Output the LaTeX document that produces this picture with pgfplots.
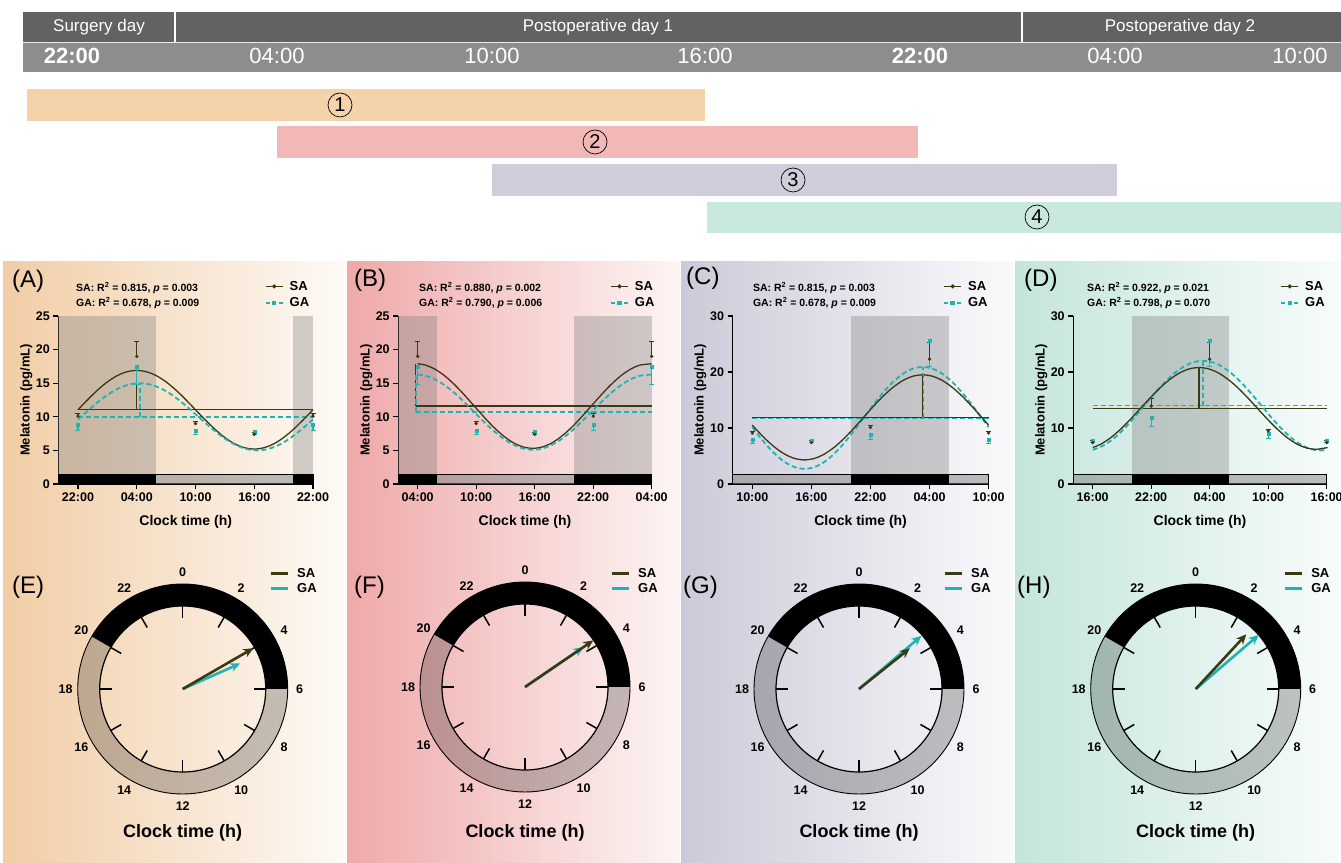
\documentclass[border=0pt]{standalone}
\usepackage{pgfplots}
\pgfplotsset{compat=1.18}
\usepackage{fontspec}
\setmainfont{Liberation Sans}
\usetikzlibrary{arrows.meta}
\newcommand\fs[1]{\fontsize{#1}{#1}\selectfont}
\definecolor{sa}{HTML}{3B3912}
\definecolor{ga}{HTML}{1FB3B3}
\definecolor{hdrA}{HTML}{626262}
\definecolor{hdrB}{HTML}{8D8D8D}
\definecolor{g1}{HTML}{F4D3AB}
\definecolor{g2}{HTML}{F2B8B7}
\definecolor{g3}{HTML}{CFCDDA}
\definecolor{g4}{HTML}{C9E8DF}
\definecolor{pA1}{HTML}{F1CDA6}\definecolor{pA2}{HTML}{FEFAF6}
\definecolor{pB1}{HTML}{EFA9A9}\definecolor{pB2}{HTML}{FDF5F5}
\definecolor{pC1}{HTML}{CCCAD8}\definecolor{pC2}{HTML}{FAFAFC}
\definecolor{pD1}{HTML}{C4E5DC}\definecolor{pD2}{HTML}{F8FCFB}
\pgfplotsset{
  cosax/.style={scale only axis, height=168pt, xmin=-2, xmax=24, ymin=0,
    axis x line*=bottom, axis y line*=left,
    axis line style={line width=1.3pt,-},
    xtick={0,6,12,18,24},
    tick align=outside, major tick length=5pt,
    every tick/.style={black, line width=1.2pt},
    ticklabel style={font=\fs{12.5}\bfseries},
    /pgf/number format/assume math mode=true,
    xlabel={Clock time (h)}, ylabel={Melatonin (pg/mL)},
    xlabel style={font=\fs{14}\bfseries, at={(axis description cs:0.5,-0.224)}, anchor=center},
    ylabel style={font=\fs{13}\bfseries, at={(axis description cs:-0.126,0.5)}, anchor=center},
    clip=false,
    legend style={draw=none, fill=none, anchor=north west, font=\fs{13}\bfseries, row sep=4pt, column sep=5pt, inner sep=0pt, nodes={inner sep=1pt}},
    legend cell align=left,
  },
  night/.style={fill=gray, fill opacity=0.36, draw=none, forget plot},
  darkbar/.style={fill=black, draw=none, forget plot},
  lightbar/.style={fill=gray, fill opacity=0.5, draw=none, forget plot},
  barframe/.style={draw=black, line width=0.8pt, fill=none, forget plot},
  sacurve/.style={sa, line width=1.3pt, smooth, no marks, forget plot},
  gacurve/.style={ga, line width=1.8pt, dash pattern=on 5pt off 3pt, smooth, no marks, forget plot},
  saline/.style={sa, line width=1.3pt, no marks, forget plot},
  galine/.style={ga, line width=1.8pt, dash pattern=on 5pt off 3pt, no marks, forget plot},
  sapts/.style={sa, only marks, mark=*, mark size=1.5pt, forget plot,
    error bars/.cd, y dir=plus, y explicit,
    error bar style={line width=1.1pt, sa},
    error mark options={rotate=90, mark size=2.5pt, line width=1.1pt, sa}},
  gapts/.style={ga, only marks, mark=square*, mark size=1.5pt, forget plot,
    error bars/.cd, y dir=minus, y explicit,
    error bar style={line width=1.1pt, ga},
    error mark options={rotate=90, mark size=2.5pt, line width=1.1pt, ga}},
  clockax/.style={scale only axis, width=260pt, height=260pt, xmin=-130, xmax=130, ymin=-130, ymax=130,
    hide axis, clip=false,
    legend style={draw=none, fill=none, anchor=north west, font=\fs{13}\bfseries, inner sep=0pt, row sep=2pt, column sep=7pt, nodes={inner sep=1pt}},
    legend cell align=left,
    legend image code/.code={\draw[line width=3pt] (0pt,0pt) -- (17pt,0pt);}},
}
\newcommand\legSAGA{%
  \addlegendimage{sa, line width=1.3pt, mark=*, mark size=1.3pt, mark options={solid}}
  \addlegendentry{SA}
  \addlegendimage{ga, line width=1.8pt, dash pattern=on 4pt off 2.5pt, mark=square*, mark size=1.3pt, mark options={solid}}
  \addlegendentry{GA}}
\newcommand\clockring[2]{% center x, center y (pixel, y down)
  \begin{scope}[shift={(#1,#2)}]
    \fill[black] (210:105) arc[start angle=210, end angle=360, radius=105] -- (0:83) arc[start angle=360, end angle=210, radius=83] -- cycle;
    \fill[black, opacity=0.22] (0:105) arc[start angle=0, end angle=210, radius=105] -- (210:83) arc[start angle=210, end angle=0, radius=83] -- cycle;
    \draw[line width=0.9pt] (0,0) circle[radius=105];
    \draw[line width=1.2pt] (0,0) circle[radius=83];
    \foreach \h in {0,2,...,22}{
      \draw[line width=1.5pt] ({15*\h-90}:83) -- ({15*\h-90}:71);
      \node[font=\fs{12.5}\bfseries] at ({15*\h-90}:117) {\h};
    }
  \end{scope}}
\tikzset{circnum/.style={draw=black, line width=0.7pt, circle, minimum size=24pt, inner sep=0pt, font=\fs{20}}}
\begin{document}
\begin{tikzpicture}
\useasboundingbox (0,0) rectangle (1341pt,862pt);
% ---------- backgrounds, header ----------
\begin{scope}[x=1pt, y=-1pt, yshift=862pt]
  \shade[left color=pA1, right color=pA2] (3,262) rectangle (345,862);
  \shade[left color=pB1, right color=pB2] (347,262) rectangle (680,862);
  \shade[left color=pC1, right color=pC2] (681,262) rectangle (1013,862);
  \shade[left color=pD1, right color=pD2] (1015,262) rectangle (1341,862);
  \fill[hdrA] (23,12) rectangle (1341,42);
  \fill[hdrB] (23,42) rectangle (1341,72);
  \draw[white!85!gray, line width=0.8pt] (23,42) -- (1341,42);
  \draw[white, line width=2pt] (175,12) -- (175,42);
  \draw[white, line width=2pt] (1022,12) -- (1022,42);
  \node[white, font=\fs{17}] at (99,27) {Surgery day};
  \node[white, font=\fs{17}] at (598,27) {Postoperative day 1};
  \node[white, font=\fs{17}] at (1180,27) {Postoperative day 2};
  \node[white, font=\fs{22}\bfseries] at (72,56) {22:00};
  \node[white, font=\fs{22}] at (277,56) {04:00};
  \node[white, font=\fs{22}] at (492,56) {10:00};
  \node[white, font=\fs{22}] at (705,56) {16:00};
  \node[white, font=\fs{22}\bfseries] at (920,56) {22:00};
  \node[white, font=\fs{22}] at (1115,56) {04:00};
  \node[white, font=\fs{22}] at (1300,56) {10:00};
\end{scope}
% ---------- gantt bars ----------
\begin{axis}[scale only axis, width=1341pt, height=160pt, at={(0pt,622pt)}, anchor=south west,
  xmin=0, xmax=1341, ymin=80, ymax=240, y dir=reverse, hide axis, clip=false]
  \addplot[fill=g1, draw=none] coordinates {(27,89) (705,89) (705,121) (27,121)} -- cycle;
  \addplot[fill=g2, draw=none] coordinates {(277,126) (918,126) (918,158) (277,158)} -- cycle;
  \addplot[fill=g3, draw=none] coordinates {(492,164) (1117,164) (1117,196) (492,196)} -- cycle;
  \addplot[fill=g4, draw=none] coordinates {(707,202) (1341,202) (1341,233) (707,233)} -- cycle;
  \node[circnum] at (axis cs:340,105) {1};
  \node[circnum] at (axis cs:595,142) {2};
  \node[circnum] at (axis cs:793,180) {3};
  \node[circnum] at (axis cs:1037,217) {4};
\end{axis}
% ---------- (A) ----------
\begin{axis}[cosax, at={(58.4pt,378pt)}, anchor=south west, width=254.6pt, ymax=25, ytick={0,5,10,15,20,25},
  xticklabels={22:00,04:00,10:00,16:00,22:00}, legend style={at={(axis description cs:0.81,1.215)}}]
  \legSAGA
  \addplot[night] coordinates {(-2,0) (8,0) (8,25) (-2,25)} -- cycle;
  \addplot[night] coordinates {(22,0) (24,0) (24,25) (22,25)} -- cycle;
  \addplot[darkbar] coordinates {(-2,0) (8,0) (8,1.45) (-2,1.45)} -- cycle;
  \addplot[lightbar] coordinates {(8,0) (22,0) (22,1.45) (8,1.45)} -- cycle;
  \addplot[darkbar] coordinates {(22,0) (24,0) (24,1.45) (22,1.45)} -- cycle;
  \addplot[barframe] coordinates {(-2,0) (24,0) (24,1.45) (-2,1.45)} -- cycle;
  \addplot[saline] coordinates {(0,11.05) (24,11.05)};
  \addplot[galine] coordinates {(0,10) (24,10)};
  \addplot[sacurve] coordinates {(0,11.05)(1,12.56)(2,13.98)(3,15.19)(4,16.12)(5,16.70)(6,16.90)(7,16.70)(8,16.12)(9,15.19)(10,13.98)(11,12.56)(12,11.05)(13,9.54)(14,8.13)(15,6.91)(16,5.98)(17,5.40)(18,5.20)(19,5.40)(20,5.98)(21,6.91)(22,8.13)(23,9.54)(24,11.05)};
  \addplot[gacurve] coordinates {(0,9.61)(0.3,10.00)(1.3,11.29)(2.3,12.50)(3.3,13.54)(4.3,14.33)(5.3,14.83)(6.3,15.00)(7.3,14.83)(8.3,14.33)(9.3,13.54)(10.3,12.50)(11.3,11.29)(12.3,10.00)(13.3,8.71)(14.3,7.50)(15.3,6.46)(16.3,5.67)(17.3,5.17)(18.3,5.00)(19.3,5.17)(20.3,5.67)(21.3,6.46)(22.3,7.50)(23.3,8.71)(24,9.61)};
  \addplot[saline] coordinates {(6,11.05) (6,16.90)};
  \addplot[galine] coordinates {(6.3,10) (6.3,15)};
  \addplot[gapts] coordinates {(0,8.8) +- (0,0.9) (6,17.5) +- (0,2.7) (12,7.9) +- (0,0.6) (18,7.8) +- (0,0.4) (24,8.8) +- (0,0.9)};
  \addplot[sapts] coordinates {(0,10.1) +- (0,0.35) (6,19.0) +- (0,2.2) (12,9.0) +- (0,0.3) (18,7.4) +- (0,0.3) (24,10.1) +- (0,0.35)};
  \node[anchor=base west, inner sep=0pt, font=\fs{10.5}\bfseries] at (axis description cs:0.069,1.144) {SA: R\textsuperscript{2} = 0.815, \textit{p} = 0.003};
  \node[anchor=base west, inner sep=0pt, font=\fs{10.5}\bfseries] at (axis description cs:0.069,1.055) {GA: R\textsuperscript{2} = 0.678, \textit{p} = 0.009};
\end{axis}
% ---------- (B) ----------
\begin{axis}[cosax, at={(398.2pt,378pt)}, anchor=south west, width=253.5pt, ymax=25, ytick={0,5,10,15,20,25},
  xticklabels={04:00,10:00,16:00,22:00,04:00}, legend style={at={(axis description cs:0.835,1.215)}}]
  \legSAGA
  \addplot[night] coordinates {(-2,0) (2,0) (2,25) (-2,25)} -- cycle;
  \addplot[night] coordinates {(16,0) (24,0) (24,25) (16,25)} -- cycle;
  \addplot[darkbar] coordinates {(-2,0) (2,0) (2,1.45) (-2,1.45)} -- cycle;
  \addplot[lightbar] coordinates {(2,0) (16,0) (16,1.45) (2,1.45)} -- cycle;
  \addplot[darkbar] coordinates {(16,0) (24,0) (24,1.45) (16,1.45)} -- cycle;
  \addplot[barframe] coordinates {(-2,0) (24,0) (24,1.45) (-2,1.45)} -- cycle;
  \addplot[saline] coordinates {(-0.2,11.6) (24,11.6)};
  \addplot[galine] coordinates {(-0.2,10.7) (24,10.7)};
  \addplot[sacurve] coordinates {(0,17.89)(0.8,17.69)(1.8,17.06)(2.8,16.06)(3.8,14.75)(4.8,13.23)(5.8,11.60)(6.8,9.97)(7.8,8.45)(8.8,7.15)(9.8,6.14)(10.8,5.52)(11.8,5.30)(12.8,5.52)(13.8,6.14)(14.8,7.15)(15.8,8.45)(16.8,9.97)(17.8,11.60)(18.8,13.23)(19.8,14.75)(20.8,16.06)(21.8,17.06)(22.8,17.69)(24,17.89)};
  \addplot[gacurve] coordinates {(0,16.29)(0.8,16.11)(1.8,15.55)(2.8,14.66)(3.8,13.50)(4.8,12.15)(5.8,10.70)(6.8,9.25)(7.8,7.90)(8.8,6.74)(9.8,5.85)(10.8,5.29)(11.8,5.10)(12.8,5.29)(13.8,5.85)(14.8,6.74)(15.8,7.90)(16.8,9.25)(17.8,10.70)(18.8,12.15)(19.8,13.50)(20.8,14.66)(21.8,15.55)(22.8,16.11)(24,16.29)};
  \addplot[saline] coordinates {(-0.2,11.6) (-0.2,17.9)};
  \addplot[galine] coordinates {(-0.2,10.7) (-0.2,16.3)};
  \addplot[gapts] coordinates {(0,17.5) +- (0,2.7) (6,7.9) +- (0,0.6) (12,7.8) +- (0,0.4) (18,8.8) +- (0,0.9) (24,17.5) +- (0,2.7)};
  \addplot[sapts] coordinates {(0,19.0) +- (0,2.2) (6,9.0) +- (0,0.3) (12,7.4) +- (0,0.3) (18,10.1) +- (0,0.35) (24,19.0) +- (0,2.2)};
  \node[anchor=base west, inner sep=0pt, font=\fs{10.5}\bfseries] at (axis description cs:0.082,1.144) {SA: R\textsuperscript{2} = 0.880, \textit{p} = 0.002};
  \node[anchor=base west, inner sep=0pt, font=\fs{10.5}\bfseries] at (axis description cs:0.082,1.055) {GA: R\textsuperscript{2} = 0.790, \textit{p} = 0.006};
\end{axis}
% ---------- (C) ----------
\begin{axis}[cosax, at={(732.6pt,378pt)}, anchor=south west, width=256pt, ymax=30, ytick={0,10,20,30},
  xticklabels={10:00,16:00,22:00,04:00,10:00}, legend style={at={(axis description cs:0.822,1.215)}}]
  \legSAGA
  \addplot[night] coordinates {(10,0) (20,0) (20,30) (10,30)} -- cycle;
  \addplot[lightbar] coordinates {(-2,0) (10,0) (10,1.8) (-2,1.8)} -- cycle;
  \addplot[darkbar] coordinates {(10,0) (20,0) (20,1.8) (10,1.8)} -- cycle;
  \addplot[lightbar] coordinates {(20,0) (24,0) (24,1.8) (20,1.8)} -- cycle;
  \addplot[barframe] coordinates {(-2,0) (24,0) (24,1.8) (-2,1.8)} -- cycle;
  \addplot[galine] coordinates {(0,11.8) (24,11.8)};
  \addplot[saline] coordinates {(0,11.9) (24,11.9)};
  \addplot[gacurve] coordinates {(0,10.14)(0.3,9.45)(1.3,7.25)(2.3,5.37)(3.3,3.92)(4.3,3.01)(5.3,2.70)(6.3,3.01)(7.3,3.92)(8.3,5.37)(9.3,7.25)(10.3,9.45)(11.3,11.80)(12.3,14.16)(13.3,16.35)(14.3,18.24)(15.3,19.68)(16.3,20.59)(17.3,20.90)(18.3,20.59)(19.3,19.68)(20.3,18.24)(21.3,16.35)(22.3,14.16)(23.3,11.80)(24,10.14)};
  \addplot[sacurve] coordinates {(0,10.52)(0.3,9.93)(1.3,8.10)(2.3,6.53)(3.3,5.32)(4.3,4.56)(5.3,4.30)(6.3,4.56)(7.3,5.32)(8.3,6.53)(9.3,8.10)(10.3,9.93)(11.3,11.90)(12.3,13.87)(13.3,15.70)(14.3,17.27)(15.3,18.48)(16.3,19.24)(17.3,19.50)(18.3,19.24)(19.3,18.48)(20.3,17.27)(21.3,15.70)(22.3,13.87)(23.3,11.90)(24,10.52)};
  \addplot[galine] coordinates {(17.3,11.8) (17.3,20.9)};
  \addplot[saline] coordinates {(17.3,11.9) (17.3,19.5)};
  \addplot[gapts] coordinates {(0,7.9) +- (0,0.6) (6,7.8) +- (0,0.4) (12,8.8) +- (0,0.9) (18,25.5) +- (0,4.5) (24,7.9) +- (0,0.6)};
  \addplot[sapts] coordinates {(0,9.1) +- (0,0.3) (6,7.4) +- (0,0.3) (12,10.1) +- (0,0.35) (18,22.3) +- (0,2.9) (24,9.1) +- (0,0.3)};
  \node[anchor=base west, inner sep=0pt, font=\fs{10.5}\bfseries] at (axis description cs:0.079,1.144) {SA: R\textsuperscript{2} = 0.815, \textit{p} = 0.003};
  \node[anchor=base west, inner sep=0pt, font=\fs{10.5}\bfseries] at (axis description cs:0.079,1.055) {GA: R\textsuperscript{2} = 0.678, \textit{p} = 0.009};
\end{axis}
% ---------- (D) ----------
\begin{axis}[cosax, at={(1073.2pt,378pt)}, anchor=south west, width=253.5pt, ymax=30, ytick={0,10,20,30},
  xticklabels={16:00,22:00,04:00,10:00,16:00}, legend style={at={(axis description cs:0.816,1.215)}}]
  \legSAGA
  \addplot[night] coordinates {(4,0) (14,0) (14,30) (4,30)} -- cycle;
  \addplot[lightbar] coordinates {(-2,0) (4,0) (4,1.8) (-2,1.8)} -- cycle;
  \addplot[darkbar] coordinates {(4,0) (14,0) (14,1.8) (4,1.8)} -- cycle;
  \addplot[lightbar] coordinates {(14,0) (24,0) (24,1.8) (14,1.8)} -- cycle;
  \addplot[barframe] coordinates {(-2,0) (24,0) (24,1.8) (-2,1.8)} -- cycle;
  \addplot[galine] coordinates {(0,14.0) (24,14.0)};
  \addplot[saline] coordinates {(0,13.5) (24,13.5)};
  \addplot[gacurve] coordinates {(0,6.13)(0.3,6.27)(1.3,7.07)(2.3,8.34)(3.3,10.00)(4.3,11.93)(5.3,14.00)(6.3,16.07)(7.3,18.00)(8.3,19.66)(9.3,20.93)(10.3,21.73)(11.3,22.00)(12.3,21.73)(13.3,20.93)(14.3,19.66)(15.3,18.00)(16.3,16.07)(17.3,14.00)(18.3,11.93)(19.3,10.00)(20.3,8.34)(21.3,7.07)(22.3,6.27)(23.3,6.00)(24,6.13)};
  \addplot[sacurve] coordinates {(0,6.50)(0.9,7.18)(1.9,8.34)(2.9,9.85)(3.9,11.61)(4.9,13.50)(5.9,15.39)(6.9,17.15)(7.9,18.66)(8.9,19.82)(9.9,20.55)(10.9,20.80)(11.9,20.55)(12.9,19.82)(13.9,18.66)(14.9,17.15)(15.9,15.39)(16.9,13.50)(17.9,11.61)(18.9,9.85)(19.9,8.34)(20.9,7.18)(21.9,6.45)(22.9,6.20)(23.9,6.45)(24,6.50)};
  \addplot[galine] coordinates {(11.3,14.0) (11.3,22.0)};
  \addplot[saline] coordinates {(10.9,13.5) (10.9,20.8)};
  \addplot[gapts] coordinates {(0,7.8) +- (0,0.4) (6,11.9) +- (0,1.6) (12,25.5) +- (0,4.5) (18,8.9) +- (0,0.8) (24,7.8) +- (0,0.4)};
  \addplot[sapts] coordinates {(0,7.4) +- (0,0.3) (6,13.9) +- (0,1.4) (12,22.3) +- (0,2.9) (18,9.5) +- (0,0.3) (24,7.4) +- (0,0.3)};
  \node[anchor=base west, inner sep=0pt, font=\fs{10.5}\bfseries] at (axis description cs:0.054,1.144) {SA: R\textsuperscript{2} = 0.922, \textit{p} = 0.021};
  \node[anchor=base west, inner sep=0pt, font=\fs{10.5}\bfseries] at (axis description cs:0.054,1.055) {GA: R\textsuperscript{2} = 0.798, \textit{p} = 0.070};
\end{axis}
% ---------- clock rings and labels ----------
\begin{scope}[x=1pt, y=-1pt, yshift=862pt]
  \clockring{182.7}{689}
  \clockring{525}{687}
  \clockring{859}{689}
  \clockring{1195.7}{689}
  \node[font=\fs{18}\bfseries] at (182.7,833) {Clock time (h)};
  \node[font=\fs{18}\bfseries] at (525,833) {Clock time (h)};
  \node[font=\fs{18}\bfseries] at (859,833) {Clock time (h)};
  \node[font=\fs{18}\bfseries] at (1195.7,833) {Clock time (h)};
  \node[anchor=west, font=\fs{24}, inner sep=0pt] at (12,281) {(A)};
  \node[anchor=west, font=\fs{24}, inner sep=0pt] at (354,280) {(B)};
  \node[anchor=west, font=\fs{24}, inner sep=0pt] at (686,278) {(C)};
  \node[anchor=west, font=\fs{24}, inner sep=0pt] at (1024,280) {(D)};
  \node[anchor=west, font=\fs{24}, inner sep=0pt] at (12,587) {(E)};
  \node[anchor=west, font=\fs{24}, inner sep=0pt] at (354,587) {(F)};
  \node[anchor=west, font=\fs{24}, inner sep=0pt] at (683,587) {(G)};
  \node[anchor=west, font=\fs{24}, inner sep=0pt] at (1017,587) {(H)};
\end{scope}
% ---------- clock arrows (acrophase, amplitude-scaled) ----------
\begin{axis}[clockax, at={(52.7pt,43pt)}, anchor=south west, legend style={at={(axis description cs:0.832,0.968)}}]
  \addlegendimage{sa}\addlegendentry{SA}
  \addlegendimage{ga}\addlegendentry{GA}
  \addplot[ga, line width=2.6pt, -{Stealth[length=10pt,width=9pt]}, forget plot] coordinates {(0,0) (57.4,25.5)};
  \addplot[sa, line width=2.6pt, -{Stealth[length=10pt,width=9pt]}, forget plot] coordinates {(0,0) (70.6,40.75)};
\end{axis}
\begin{axis}[clockax, at={(395pt,45pt)}, anchor=south west, legend style={at={(axis description cs:0.827,0.960)}}]
  \addlegendimage{sa}\addlegendentry{SA}
  \addlegendimage{ga}\addlegendentry{GA}
  \addplot[ga, line width=2.6pt, -{Stealth[length=10pt,width=9pt]}, forget plot] coordinates {(0,0) (58.3,39.9)};
  \addplot[sa, line width=2.6pt, -{Stealth[length=10pt,width=9pt]}, forget plot] coordinates {(0,0) (68.3,46.6)};
\end{axis}
\begin{axis}[clockax, at={(729pt,43pt)}, anchor=south west, legend style={at={(axis description cs:0.823,0.968)}}]
  \addlegendimage{sa}\addlegendentry{SA}
  \addlegendimage{ga}\addlegendentry{GA}
  \addplot[ga, line width=2.6pt, -{Stealth[length=10pt,width=9pt]}, forget plot] coordinates {(0,0) (62.4,53.1)};
  \addplot[sa, line width=2.6pt, -{Stealth[length=10pt,width=9pt]}, forget plot] coordinates {(0,0) (50.8,40.6)};
\end{axis}
\begin{axis}[clockax, at={(1065.7pt,43pt)}, anchor=south west, legend style={at={(axis description cs:0.836,0.968)}}]
  \addlegendimage{sa}\addlegendentry{SA}
  \addlegendimage{ga}\addlegendentry{GA}
  \addplot[ga, line width=2.6pt, -{Stealth[length=10pt,width=9pt]}, forget plot] coordinates {(0,0) (63.0,54.0)};
  \addplot[sa, line width=2.6pt, -{Stealth[length=10pt,width=9pt]}, forget plot] coordinates {(0,0) (50.6,54.7)};
\end{axis}
\end{tikzpicture}
\end{document}
